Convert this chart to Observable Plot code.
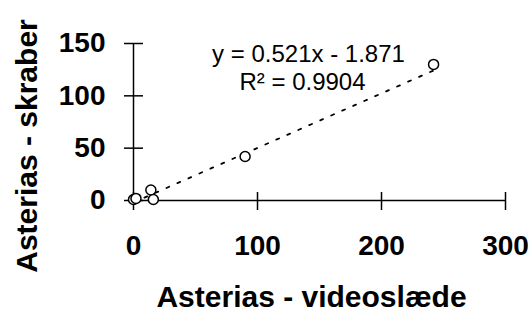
<!DOCTYPE html>
<html>
<head>
<meta charset="utf-8">
<script src="https://cdn.jsdelivr.net/npm/d3@7"></script>
<script src="https://cdn.jsdelivr.net/npm/@observablehq/plot@0.6"></script>
<style>
  html, body { margin: 0; padding: 0; background: white; }
</style>
</head>
<body>
<div id="chart"></div>
<script>
const xValues = [0, 2, 14, 16, 90, 242];
const yValues = [1, 2, 10, 1, 42, 130];
const xTicks = [0, 100, 200, 300];
const yTicks = [0, 50, 100, 150];
const slope = 0.521;
const intercept = -1.871;
const eqLabel = "y = 0.521x - 1.871";
const r2Label = "R² = 0.9904";
const xTitle = "Asterias - videoslæde";
const yTitle = "Asterias - skraber";

const points = xValues.map((x, i) => ({x, y: yValues[i]}));
const xMax = d3.max(xValues);
const trend = [{x: 0, y: intercept}, {x: xMax, y: slope * xMax + intercept}];

const bigFont = "'Liberation Sans', Arial, sans-serif";
const eqFont = "'Liberation Sans', Arial, sans-serif";

const chart = Plot.plot({
  width: 529,
  height: 313,
  marginLeft: 133,
  marginRight: 24,
  marginTop: 43,
  marginBottom: 113,
  style: {background: "white", fontFamily: bigFont, color: "black"},
  x: {domain: [xTicks[0], xTicks[xTicks.length - 1]]},
  y: {domain: [yTicks[0], yTicks[yTicks.length - 1]]},
  marks: [
    Plot.ruleY([0], {x1: xTicks[0], x2: xTicks[xTicks.length - 1], stroke: "black", strokeWidth: 1.5}),
    Plot.ruleX([0], {y1: yTicks[0], y2: yTicks[yTicks.length - 1], stroke: "black", strokeWidth: 1.5}),
    Plot.axisX({ticks: xTicks, tickSize: 18, dy: -8, tickFormat: () => "", label: null, stroke: "black", strokeWidth: 1.5}),
    Plot.axisY({ticks: yTicks, tickSize: 19, dx: 10, tickFormat: () => "", label: null, stroke: "black", strokeWidth: 1.5}),
    Plot.axisX({ticks: xTicks, tickSize: 0, tickPadding: 35, fontSize: 28, fontWeight: "bold", label: null, fontFamily: bigFont}),
    Plot.axisY({ticks: yTicks, tickSize: 0, tickPadding: 28, fontSize: 28, fontWeight: "bold", label: null, fontFamily: bigFont}),
    Plot.line(trend, {x: "x", y: "y", stroke: "black", strokeWidth: 1.8, strokeDasharray: "3,9"}),
    Plot.dot(points, {x: "x", y: "y", r: 5, stroke: "black", fill: "white", strokeWidth: 1.5}),
    Plot.text([eqLabel], {text: d => d, frameAnchor: "top-left", dx: 175, dy: 11, textAnchor: "middle", lineAnchor: "middle", fontSize: 24, fontFamily: eqFont, fill: "black"}),
    Plot.text([r2Label], {text: d => d, frameAnchor: "top-left", dx: 169, dy: 39, textAnchor: "middle", lineAnchor: "middle", fontSize: 24, fontFamily: eqFont, fill: "black"}),
    Plot.text([xTitle], {text: d => d, frameAnchor: "bottom", dx: -8, dy: 97, textAnchor: "middle", lineAnchor: "middle", fontSize: 30, fontWeight: "bold", fontFamily: bigFont, fill: "black"}),
    Plot.text([yTitle], {text: d => d, frameAnchor: "left", dx: -106, dy: 24, rotate: -90, textAnchor: "middle", lineAnchor: "middle", fontSize: 30, fontWeight: "bold", fontFamily: bigFont, fill: "black"})
  ]
});
document.getElementById("chart").appendChild(chart);
</script>
</body>
</html>
